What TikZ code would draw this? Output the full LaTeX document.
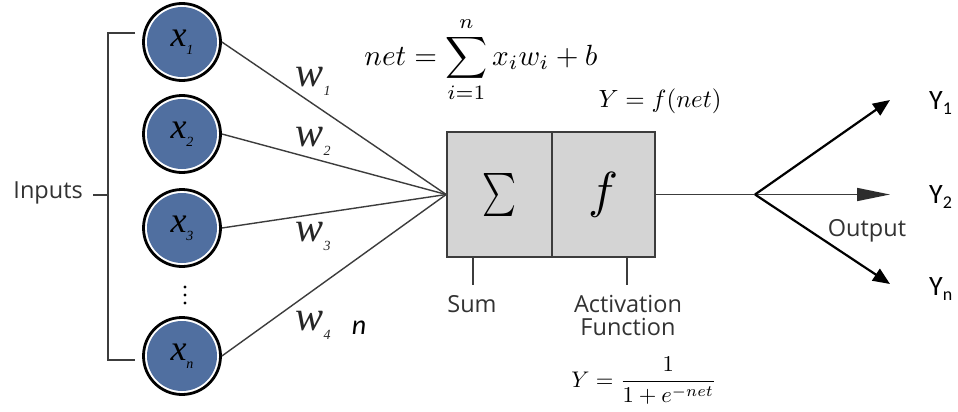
\documentclass[tikz,border=0pt]{standalone}
\usepackage{fontspec}
\usepackage{amsmath}
\usepackage{graphicx}
\newfontfamily\segoe{Open Sans}
\newfontfamily\calib{Carlito}
\newfontfamily\tnr{Liberation Serif}
\usetikzlibrary{arrows.meta,calc}
\definecolor{nodeblue}{RGB}{80,111,160}
\definecolor{boxgray}{RGB}{212,212,212}
\definecolor{txtgray}{RGB}{50,50,50}
\definecolor{linegray}{RGB}{60,60,60}
\definecolor{headgray}{RGB}{45,45,45}
\newcommand\invar[1]{{\tnr\itshape\fontsize{36}{36}\selectfont x}\raisebox{-8pt}{\tnr\itshape\fontsize{14}{14}\selectfont #1}}
\newcommand\wlab[1]{{\tnr\itshape\fontsize{42}{42}\selectfont w}\raisebox{-9pt}{\tnr\itshape\fontsize{14}{14}\selectfont #1}}
\newcommand\ylab[1]{Y\raisebox{-5pt}{\fontsize{18}{18}\selectfont #1}}
\begin{document}
\begin{tikzpicture}[x=1pt,y=-1pt,
  inp/.style={circle, draw=black, line width=2.8pt, fill=white, minimum size=77pt, inner sep=0pt,
    path picture={\fill[nodeblue] (path picture bounding box.center) circle (35pt);}},
  wire/.style={draw=linegray, line width=1.4pt},
  lbl/.style={font=\segoe\fontsize{23.5}{23}\selectfont, text=txtgray, inner sep=0pt},
  ylbl/.style={font=\calib\fontsize{28}{28}\selectfont, inner sep=0pt, anchor=west},
  wlbl/.style={inner sep=0pt, text=black!85},
  blk/.style={draw=linegray, line width=1.6pt, fill=boxgray, minimum height=125pt, inner sep=0pt},
  outarr/.style={draw=black, line width=2.2pt, -{Triangle[length=17pt,width=14pt]}},
]
\fill[white] (0,0) rectangle (958,412);
\useasboundingbox (0,0) rectangle (958,412);

% input neurons
\node[inp] (x1) at (182,42) {\invar{1}};
\node[inp] (x2) at (182,134) {\invar{2}};
\node[inp] (x3) at (182,228) {\invar{3}};
\node[inp] (xn) at (182,356) {\invar{n}};
\fill[black] (185,287) circle (1.6pt);
\fill[black] (185,295) circle (1.6pt);
\fill[black] (185,303) circle (1.6pt);

% bracket
\node[lbl, anchor=east] (inputs) at (83,193) {Inputs};
\coordinate (bt) at (135,33);
\coordinate (bb) at (135,360);
\coordinate (bm) at (93,195);
\draw[wire] (bt) -- (108,33) -- (108,360) -- (bb);
\draw[wire] (bm) -- (108,195);

% neuron block
\node[blk, minimum width=105pt] (sum) at (499.5,194.5) {\resizebox*{34pt}{43pt}{$\sum$}};
\node[blk, minimum width=103pt] (f) at (603.5,194.5) {\resizebox*{30pt}{45pt}{$f$}};

% weights
\draw[wire] (x1.east) -- (sum.west);
\draw[wire] (x2.east) -- (sum.west);
\draw[wire] (x3.east) -- (sum.west);
\draw[wire] (xn.east) -- (sum.west);
\node[wlbl] (w1) at (313,81) {\wlab{1}};
\node[wlbl] (w2) at (313,141) {\wlab{2}};
\node[wlbl] (w3) at (313,236) {\wlab{3}};
\node[wlbl] (w4) at (313,325) {\wlab{4}};
\node[inner sep=0pt, font=\calib\itshape\fontsize{28}{28}\selectfont] (nn) at (359,328) {n};

% formulas
\node[inner sep=0pt] (net) at (481,60) {\resizebox{233pt}{!}{$\displaystyle net=\sum_{i=1}^{n}x_i w_i+b$}};
\node[inner sep=0pt] (yf) at (660,101) {\resizebox{123pt}{!}{$Y=f(net)$}};
\node[inner sep=0pt] (sig) at (644,381) {\resizebox{145pt}{!}{$\displaystyle Y=\frac{1}{1+e^{-net}}$}};

% ticks and labels
\coordinate (st1) at (473,257.5);
\coordinate (st2) at (473,285);
\coordinate (at1) at (627,257.5);
\coordinate (at2) at (627,285);
\draw[wire] (st1) -- (st2);
\draw[wire] (at1) -- (at2);
\node[lbl] (sumlbl) at (472,304) {Sum};
\node[lbl, align=center] (act) at (628,315) {Activation\\Function};

% outputs
\coordinate (split) at (755,194.5);
\coordinate (y1t) at (890,100);
\coordinate (y2t) at (890,194.5);
\coordinate (ynt) at (890,284);
\draw[draw=linegray, line width=1.6pt] (f.east) -- (split);
\draw[draw=linegray, line width=1.6pt, -{Triangle[length=33pt,width=13pt,color=headgray]}] (split) -- (y2t);
\draw[outarr] (split) -- (y1t);
\draw[outarr] (split) -- (ynt);
\node[lbl] (outlbl) at (867,231) {Output};
\node[ylbl] (Y1) at (929,103) {\ylab{1}};
\node[ylbl] (Y2) at (929,197) {\ylab{2}};
\node[ylbl] (Yn) at (929,289) {\ylab{n}};
\end{tikzpicture}
\end{document}
